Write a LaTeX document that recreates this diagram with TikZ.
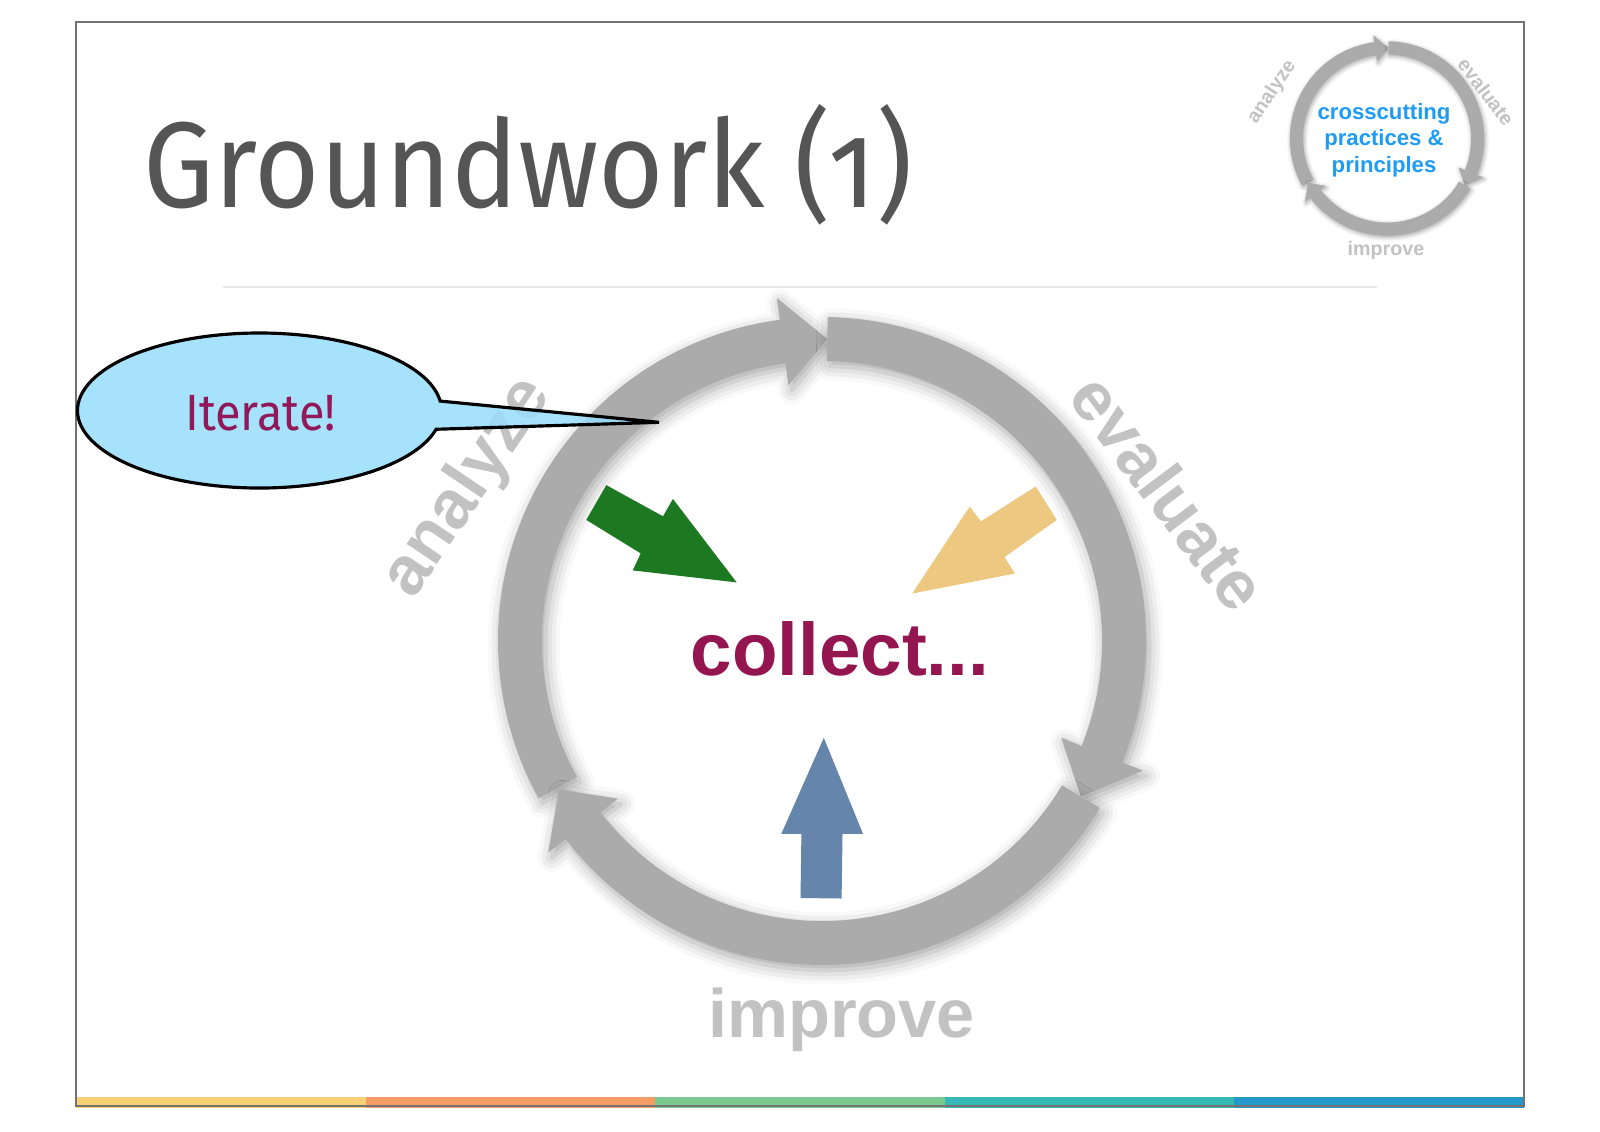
\documentclass[tikz,border=0pt]{standalone}
\usepackage{fontspec}
\setsansfont{Liberation Sans}
\newfontfamily\firafont[Numbers=OldStyle, FakeStretch=0.92]{Fira Sans}
\usepackage{xcolor}
\usetikzlibrary{shadows.blur}

\definecolor{ringgray}{RGB}{171,171,171}
\definecolor{labelgray}{RGB}{194,194,194}
\definecolor{titlegray}{RGB}{85,85,85}
\definecolor{collectred}{RGB}{148,22,80}
\definecolor{iteratered}{RGB}{145,25,90}
\definecolor{bubbleblue}{RGB}{152,221,252}
\definecolor{crossblue}{RGB}{30,155,245}
\definecolor{arrowgreen}{RGB}{29,120,34}
\definecolor{arrowyellow}{RGB}{236,200,128}
\definecolor{arrowblue}{RGB}{101,134,170}

\begin{document}
\begin{tikzpicture}[
    ringarc/.style={fill=ringgray, blur shadow={shadow xshift=1pt, shadow yshift=-1.5pt, shadow blur radius=4pt, shadow opacity=35}},
    cyclelabel/.style={text=labelgray, font=\sffamily\bfseries\fontsize{19.5}{21}\selectfont, inner sep=0pt},
    smalllabel/.style={cyclelabel, font=\sffamily\bfseries\fontsize{5.6}{6}\selectfont},
    bubble/.style={draw=black, line width=0.9pt, fill=bubbleblue, fill opacity=0.85},
    cyclering/.pic={
        \fill[ringarc] (209:3.24) arc[start angle=209, end angle=97.5, radius=3.24] -- (97.5:3.46) -- (89:3.02) -- (97.5:2.58) -- (97.5:2.80) arc[start angle=97.5, end angle=209, radius=2.80] -- cycle;
        \fill[ringarc] (89:3.24) arc[start angle=89, end angle=-22, radius=3.24] -- (-22:3.46) -- (-31:3.02) -- (-22:2.58) -- (-22:2.80) arc[start angle=-22, end angle=89, radius=2.80] -- cycle;
        \fill[ringarc] (-31:3.24) arc[start angle=-31, end angle=-142.3, radius=3.24] -- (-142.3:3.46) -- (-150.6:3.02) -- (-142.3:2.58) -- (-142.3:2.80) arc[start angle=-142.3, end angle=-31, radius=2.80] -- cycle;
    }
]

\useasboundingbox (0,0) rectangle (16,-11.31);

% colour bar and frame
\fill[fill={rgb,255:red,248;green,209;blue,118}] (0.76,-10.97) rectangle (3.656,-11.08);
\fill[fill={rgb,255:red,245;green,157;blue,101}] (3.656,-10.97) rectangle (6.552,-11.08);
\fill[fill={rgb,255:red,124;green,201;blue,143}] (6.552,-10.97) rectangle (9.448,-11.08);
\fill[fill={rgb,255:red,53;green,184;blue,182}] (9.448,-10.97) rectangle (12.344,-11.08);
\fill[fill={rgb,255:red,36;green,153;blue,201}] (12.344,-10.97) rectangle (15.24,-11.08);
\draw[gray!110, line width=0.45pt] (0.76,-0.22) rectangle (15.24,-11.06);

% title
\node [anchor=base west, inner sep=0pt, text=titlegray, font=\firafont\fontsize{34.7}{40}\selectfont] (title) at (1.43,-2.07) {Groundwork (1)};
\draw[black!9, line width=0.6pt] (2.23,-2.87) -- (13.77,-2.87);

% main cycle
\pic at (8.22,-6.41) {cyclering};
\node [cyclelabel, rotate=56] (analyze) at (4.68,-4.88) {analyze};
\node [cyclelabel, rotate=-53] (evaluate) at (11.69,-4.92) {evaluate};
\node [cyclelabel, anchor=base] (improve) at (8.415,-10.37) {improve};
\node [anchor=base, inner sep=0pt, text=collectred, font=\sffamily\bfseries\fontsize{21.2}{24}\selectfont] (collect) at (8.40,-6.75) {collect...};

\fill[arrowgreen] (6.063,-4.851) -- (6.630,-5.163) -- (6.729,-4.989) -- (7.367,-5.824) -- (6.327,-5.704) -- (6.407,-5.534) -- (5.863,-5.199) -- cycle;
\fill[arrowyellow] (10.358,-4.864) -- (10.568,-5.199) -- (10.046,-5.570) -- (10.148,-5.735) -- (9.121,-5.936) -- (9.697,-5.065) -- (9.809,-5.213) -- cycle;
\fill[arrowblue] (8.238,-7.378) -- (8.630,-8.338) -- (8.425,-8.338) -- (8.416,-8.985) -- (8.005,-8.980) -- (8.014,-8.338) -- (7.813,-8.338) -- cycle;

% speech bubble
\draw[bubble] (6.59,-4.223) -- (4.361,-4.2925) arc[start angle=-14, end angle=-353, x radius=1.82, y radius=0.775] -- cycle;
\node [anchor=base, inner sep=0pt, text=iteratered, font=\firafont\fontsize{14.5}{16}\selectfont] (iterate) at (2.605,-4.30) {Iterate!};

% small cycle, top right
\pic[scale=0.3, ringarc/.style={fill=ringgray, blur shadow={shadow xshift=0.3pt, shadow yshift=-0.5pt, shadow blur radius=1.2pt, shadow opacity=35}}] at (13.87,-1.385) {cyclering};
\node [smalllabel, rotate=56] (analyzesmall) at (12.72,-0.92) {analyze};
\node [smalllabel, rotate=-53] (evaluatesmall) at (14.86,-0.92) {evaluate};
\node [smalllabel, anchor=base] (improvesmall) at (13.86,-2.55) {improve};
\node [align=center, inner sep=0pt, text=crossblue, font=\sffamily\bfseries\fontsize{6.3}{7.5}\selectfont] (crosscut) at (13.84,-1.40) {crosscutting\\practices \&\\principles};

\end{tikzpicture}
\end{document}
